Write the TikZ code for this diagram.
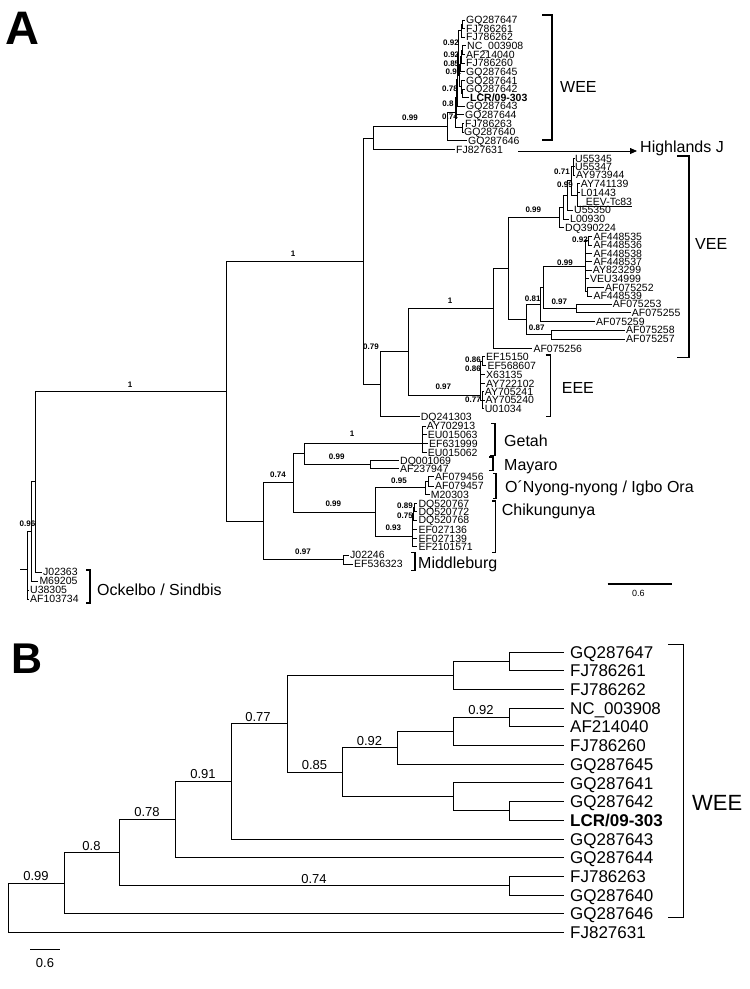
\documentclass[tikz,border=0pt]{standalone}
\usepackage{fontspec}
\setmainfont{Liberation Sans}
\usetikzlibrary{arrows.meta}
\begin{document}
\begin{tikzpicture}[x=1pt,y=-1pt,
  tipA/.style={anchor=west,inner xsep=1pt,inner ysep=0pt,text height=7.5pt,text depth=0pt,font=\fontsize{10.5}{12}\selectfont},
  tipAb/.style={tipA,font=\bfseries\fontsize{10.5}{12}\selectfont},
  supA/.style={inner sep=0pt,text height=5.7pt,text depth=0pt,font=\bfseries\fontsize{8}{9}\selectfont},
  cladeA/.style={anchor=west,inner sep=0pt,text height=11.5pt,text depth=0pt,font=\fontsize{16}{18}\selectfont},
  edgeA/.style={line width=0.8pt},
  tipB/.style={anchor=west,inner xsep=6.5pt,inner ysep=0pt,text height=12.2pt,text depth=0pt,font=\fontsize{17}{19}\selectfont},
  tipBb/.style={tipB,font=\bfseries\fontsize{17}{19}\selectfont},
  supB/.style={anchor=south,inner sep=0pt,text height=9.3pt,text depth=0pt,font=\fontsize{13}{15}\selectfont},
  edgeB/.style={line width=1pt},
  brk/.style={line width=1.4pt},
  panel/.style={anchor=west,inner sep=0pt,text depth=0pt}]
\fill[white] (0,0) rectangle (750,989);
\useasboundingbox (0,0) rectangle (750,989);

% ---------------- panel letters
\node[panel,text height=34pt,font=\bfseries\fontsize{47}{50}\selectfont] (panelA) at (5,27) {A};
\node[panel,text height=31pt,font=\bfseries\fontsize{43}{46}\selectfont] (panelB) at (11,658) {B};

% ================= PANEL A =================
% --- WEE tips
\node[tipA] (w0) at (465,20) {GQ287647};
\node[tipA] (w1) at (465,28.62) {FJ786261};
\node[tipA] (w2) at (465,37.24) {FJ786262};
\node[tipA] (w3) at (466,45.86) {NC\_003908};
\node[tipA] (w4) at (465,54.48) {AF214040};
\node[tipA] (w5) at (465,63.1) {FJ786260};
\node[tipA] (w6) at (465,71.72) {GQ287645};
\node[tipA] (w7) at (465,80.34) {GQ287641};
\node[tipA] (w8) at (465,88.96) {GQ287642};
\node[tipAb] (w9) at (469,97.58) {LCR/09-303};
\node[tipA] (w10) at (465,106.2) {GQ287643};
\node[tipA] (w11) at (464,114.82) {GQ287644};
\node[tipA] (w12) at (464,123.44) {FJ786263};
\node[tipA] (w13) at (463,132.06) {GQ287640};
\node[tipA] (w14) at (467,140.68) {GQ287646};
\node[tipA] (w15) at (455,149.3) {FJ827631};
% WEE support
\node[supA] (sw1) at (451,43) {0.92};
\node[supA] (sw2) at (451.4,55) {0.92};
\node[supA] (sw3) at (451.4,64) {0.85};
\node[supA] (sw4) at (453.4,72) {0.91};
\node[supA] (sw5) at (450,89) {0.78};
\node[supA] (sw6) at (448,104) {0.8};
\node[supA] (sw7) at (450,117) {0.74};
\node[supA] (sw8) at (410,118) {0.99};
% WEE internal nodes
\coordinate (a_p01) at (462.5,24.31);
\coordinate (a_n7) at (461,30.78);
\coordinate (a_pNA) at (462.5,50.17);
\coordinate (a_n11) at (461,56.64);
\coordinate (a_n9) at (460.2,64.18);
\coordinate (a_pGL) at (462.5,93.27);
\coordinate (a_n10) at (461,86.81);
\coordinate (a_n8) at (459.5,75.49);
\coordinate (a_n6) at (458.5,53.13);
\coordinate (a_n5) at (457.5,79.67);
\coordinate (a_n4) at (456.5,97.24);
\coordinate (a_p1213) at (462.5,127.75);
\coordinate (a_n3) at (455,112.5);
\coordinate (a_n2) at (447,126.59);
\coordinate (a_wr) at (373,137.95);

% --- Highlands J
\node[cladeA] (hj) at (640,146.5) {Highlands J};
\coordinate (hjtip) at (637,151);
\draw[edgeA,-{Triangle[length=7pt,width=6pt]}] ([xshift=14pt,yshift=-1.7pt]w15.east) -- (hjtip);

% --- VEE tips
\node[tipA] (v1) at (574,158.3) {U55345};
\node[tipA] (v2) at (574,166.7) {U55347};
\node[tipA] (v3) at (575,175) {AY973944};
\node[tipA] (v4) at (579.7,183.3) {AY741139};
\node[tipA] (v5) at (579.7,192.7) {L01443};
\node[tipA] (v6) at (584.7,201.7) {EEV-Tc83};
\node[tipA] (v7) at (573,210) {U55350};
\node[tipA] (v8) at (569,219) {L00930};
\node[tipA] (v9) at (564,227.3) {DQ390224};
\node[tipA] (v10) at (592.3,236.7) {AF448535};
\node[tipA] (v11) at (592.3,245) {AF448536};
\node[tipA] (v12) at (592.3,253.3) {AF448538};
\node[tipA] (v13) at (592.3,261.7) {AF448537};
\node[tipA] (v14) at (591.7,270) {AY823299};
\node[tipA] (v15) at (589,278.3) {VEU34999};
\node[tipA] (v16) at (604,287.3) {AF075252};
\node[tipA] (v17) at (592.3,296) {AF448539};
\node[tipA] (v18) at (611.7,304) {AF075253};
\node[tipA] (v19) at (630.7,312.7) {AF075255};
\node[tipA] (v20) at (595,321.7) {AF075259};
\node[tipA] (v21) at (625,330) {AF075258};
\node[tipA] (v22) at (625,339) {AF075257};
\node[tipA] (v23) at (532.3,348.3) {AF075256};
\coordinate (eevend) at (632,206.7);
% VEE support
\node[supA] (sv1) at (562,171.7) {0.71};
\node[supA] (sv2) at (565,184.3) {0.99};
\node[supA] (sv3) at (533.3,210) {0.99};
\node[supA] (sv4) at (580,240) {0.92};
\node[supA] (sv5) at (565,262.3) {0.99};
\node[supA] (sv6) at (532.7,298.3) {0.81};
\node[supA] (sv7) at (559.3,301.7) {0.97};
\node[supA] (sv8) at (536.7,327.3) {0.87};
\node[supA] (sv9) at (450,300.7) {1};
% VEE internal
\coordinate (Va) at (573.5,166.7);
\coordinate (Vb) at (577.3,195);
\coordinate (V4) at (571,180.85);
\coordinate (V3) at (567.5,195.4);
\coordinate (V2) at (563.5,207.2);
\coordinate (V1) at (559.3,217.25);
\coordinate (L8) at (588,240.85);
\coordinate (L7) at (587,291.65);
\coordinate (L5) at (585,266.25);
\coordinate (L6) at (576,308.35);
\coordinate (L4) at (543,287.3);
\coordinate (L2) at (540.5,304.5);
\coordinate (L3) at (551.7,334.5);
\coordinate (L1) at (526.7,319.5);
\coordinate (L0) at (508.3,268.4);
\coordinate (VEEn) at (493.3,308.35);

% --- EEE
\node[tipA] (e1) at (485,356.7) {EF15150};
\node[tipA] (e2) at (486.3,365.7) {EF568607};
\node[tipA] (e3) at (485,374.3) {X63135};
\node[tipA] (e4) at (485,383.3) {AY722102};
\node[tipA] (e5) at (483.7,391.7) {AY705241};
\node[tipA] (e6) at (484.5,400) {AY705240};
\node[tipA] (e7) at (483.7,408.7) {U01034};
\node[tipA] (dq) at (419.7,416.7) {DQ241303};
\node[supA] (se1) at (473,359.3) {0.86};
\node[supA] (se2) at (473,368.7) {0.86};
\node[supA] (se3) at (473,400) {0.77};
\node[supA] (se4) at (443.3,386.7) {0.97};
\node[supA] (se5) at (371,347) {0.79};
\coordinate (E1) at (482.5,361.2);
\coordinate (E2) at (482,400.2);
\coordinate (E0) at (480,395.3);
\coordinate (VE) at (408.3,351.8);
\coordinate (Q) at (380,384.25);
\coordinate (W) at (363,261.1);
\coordinate (X) at (226,391.4);

% --- lower clades
\node[tipA] (g1) at (425.7,426) {AY702913};
\node[tipA] (g2) at (426.7,434.3) {EU015063};
\node[tipA] (g3) at (428,443.3) {EF631999};
\node[tipA] (g4) at (426.7,452.3) {EU015062};
\node[tipA] (m1) at (399,460.7) {DQ001069};
\node[tipA] (m2) at (399,468.3) {AF237947};
\node[tipA] (o1) at (434,476.7) {AF079456};
\node[tipA] (o2) at (434,486) {AF079457};
\node[tipA] (o3) at (429.7,494.3) {M20303};
\node[tipA] (c1) at (417.3,503.3) {DQ520767};
\node[tipA] (c2) at (417.3,511.7) {DQ520772};
\node[tipA] (c3) at (417.3,520) {DQ520768};
\node[tipA] (c4) at (417.3,529.3) {EF027136};
\node[tipA] (c5) at (417.3,538.3) {EF027139};
\node[tipA] (c6) at (417.3,546.7) {EF2101571};
\node[tipA] (mb1) at (349,555) {J02246};
\node[tipA] (mb2) at (353,564) {EF536323};
\node[tipA] (k1) at (42,572) {J02363};
\node[tipA] (k2) at (38.3,581) {M69205};
\node[tipA] (k3) at (29,590) {U38305};
\node[tipA] (k4) at (29,599) {AF103734};
\node[supA] (sl1) at (352,434) {1};
\node[supA] (sl2) at (336.7,456.7) {0.99};
\node[supA] (sl3) at (278,475) {0.74};
\node[supA] (sl4) at (399,480.7) {0.95};
\node[supA] (sl5) at (333.3,503.3) {0.99};
\node[supA] (sl6) at (405,505.7) {0.89};
\node[supA] (sl7) at (405,516) {0.75};
\node[supA] (sl8) at (393.3,527.3) {0.93};
\node[supA] (sl9) at (303,551.7) {0.97};
\node[supA] (sl10) at (27.5,524) {0.96};
\node[supA] (sl11) at (130,385) {1};
\node[supA] (sl12) at (293,254) {1};
\coordinate (Y) at (263.3,521.3);
\coordinate (Z) at (293.3,482.6);
\coordinate (GM) at (304,453.75);
\coordinate (G) at (422.7,443);
\coordinate (M) at (370.7,464.5);
\coordinate (OC) at (375,512);
\coordinate (ONN) at (425,487.8);
\coordinate (P) at (428,481.3);
\coordinate (C0) at (412.3,536);
\coordinate (C2) at (413.5,513.75);
\coordinate (C1) at (414.5,507.5);
\coordinate (Mb) at (343.5,559.5);
\coordinate (AR) at (35,481.7);
\coordinate (O1) at (31,531.35);
\coordinate (O2) at (27,569);
\coordinate (Ost) at (20,569);

% --- edges panel A
\draw[edgeA]
  (a_p01) |- (w0.west) (a_p01) |- (w1.west)
  (a_n7) |- (a_p01) (a_n7) |- (w2.west)
  (a_pNA) |- (w3.west) (a_pNA) |- (w4.west)
  (a_n11) |- (a_pNA) (a_n11) |- (w5.west)
  (a_n9) |- (a_n11) (a_n9) |- (w6.west)
  (a_pGL) |- (w8.west) (a_pGL) |- (w9.west)
  (a_n10) |- (w7.west) (a_n10) |- (a_pGL)
  (a_n8) |- (a_n9) (a_n8) |- (a_n10)
  (a_n6) |- (a_n7) (a_n6) |- (a_n8)
  (a_n5) |- (a_n6) (a_n5) |- (w10.west)
  (a_n4) |- (a_n5) (a_n4) |- (w11.west)
  (a_p1213) |- (w12.west) (a_p1213) |- (w13.west)
  (a_n3) |- (a_n4) (a_n3) |- (a_p1213)
  (a_n2) |- (a_n3) (a_n2) |- (w14.west)
  (a_wr) |- (a_n2) (a_wr) |- (w15.west)
  (W) |- (a_wr) (W) |- (Q)
  (X) |- (W) (X) |- (Y)
  (Q) |- (VE) (Q) |- (dq.west)
  (VE) |- (VEEn) (VE) |- (E0)
  (VEEn) |- (L0) (VEEn) |- (v23.west)
  (L0) |- (V1) (L0) |- (L1)
  (V1) |- (V2) (V1) |- (v9.west)
  (V2) |- (V3) (V2) |- (v8.west)
  (V3) |- (V4) (V3) |- (v7.west)
  (V4) |- (Va) (V4) |- (Vb)
  (Va) |- (v1.west) (Va) |- (v2.west) (Va) |- (v3.west)
  (Vb) |- (v4.west) (Vb) |- (v5.west) (Vb) |- (eevend)
  (L1) |- (L2) (L1) |- (L3)
  (L2) |- (L4) (L2) |- (v20.west)
  (L4) |- (L5) (L4) |- (L6)
  (L5) |- (L8) (L5) |- (v12.west) (L5) |- (v13.west) (L5) |- (v14.west) (L5) |- (v15.west) (L5) |- (L7)
  (L8) |- (v10.west) (L8) |- (v11.west)
  (L7) |- (v16.west) (L7) |- (v17.west)
  (L6) |- (v18.west) (L6) |- (v19.west)
  (L3) |- (v21.west) (L3) |- (v22.west)
  (E0) |- (E1) (E0) |- (e3.west) (E0) |- (e4.west) (E0) |- (E2)
  (E1) |- (e1.west) (E1) |- (e2.west)
  (E2) |- (e5.west) (E2) |- (e6.west) (E2) |- (e7.west)
  (Y) |- (Z) (Y) |- (Mb)
  (Z) |- (GM) (Z) |- (OC)
  (GM) |- (G) (GM) |- (M)
  (G) |- (g1.west) (G) |- (g2.west) (G) |- (g3.west) (G) |- (g4.west)
  (M) |- (m1.west) (M) |- (m2.west)
  (OC) |- (ONN) (OC) |- (C0)
  (ONN) |- (P) (ONN) |- (o3.west)
  (P) |- (o1.west) (P) |- (o2.west)
  (C0) |- (C2) (C0) |- (c4.west) (C0) |- (c5.west) (C0) |- (c6.west)
  (C2) |- (C1) (C2) |- (c3.west)
  (C1) |- (c1.west) (C1) |- (c2.west)
  (Mb) |- (mb1.west) (Mb) |- (mb2.west)
  (AR) |- (X) (AR) |- (k1.west)
  (O1) |- (AR) (O1) |- (k2.west)
  (O2) |- (O1) (O2) |- (k3.west) (O2) |- (k4.west)
  (Ost) -- (O2);

% --- clade brackets and names (A)
\draw[brk] (542,15) -- (552,15) -- (552,140) -- (542,140);
\node[cladeA] (tWEE) at (560,87) {WEE};
\draw[brk] (677,156) -- (689,156) -- (689,357.3) -- (677,357.3);
\node[cladeA] (tVEE) at (695,244) {VEE};
\draw[brk] (545.7,355) -- (550.7,355) -- (550.7,416.7) -- (545.7,416.7);
\node[cladeA] (tEEE) at (561.7,387.7) {EEE};
\draw[brk] (491,423.3) -- (495,423.3) -- (495,455.5) -- (490,455.5);
\node[cladeA] (tGetah) at (504,440.7) {Getah};
\draw[brk] (489,457) -- (493,457) -- (493,470.7) -- (489,470.7);
\node[cladeA] (tMay) at (504,465) {Mayaro};
\draw[brk] (493,473.3) -- (496,473.3) -- (496,498.3) -- (493,498.3);
\node[cladeA] (tONN) at (505,486.7) {O´Nyong-nyong / Igbo Ora};
\draw[brk] (492,501) -- (495.7,501) -- (495.7,552.7) -- (492,552.7);
\node[cladeA] (tChik) at (501.7,510) {Chikungunya};
\draw[brk] (411,552.7) -- (415,552.7) -- (415,570.7) -- (411,570.7);
\node[cladeA] (tMid) at (418,562.7) {Middleburg};
\draw[brk] (86,570) -- (90,570) -- (90,603) -- (86,603);
\node[cladeA] (tOck) at (97,590) {Ockelbo / Sindbis};

% scale bar A
\coordinate (sbA1) at (607.7,584);
\coordinate (sbA2) at (671.7,584);
\draw[line width=1.1pt] (sbA1) -- (sbA2);
\node[inner sep=0pt,text height=6.5pt,text depth=0pt,font=\fontsize{9}{10}\selectfont] (sbAt) at (638.3,593.3) {0.6};

% ================= PANEL B =================
\node[tipB] (b0) at (563.5,652) {GQ287647};
\node[tipB] (b1) at (563.5,670.7) {FJ786261};
\node[tipB] (b2) at (563.5,689.4) {FJ786262};
\node[tipB] (b3) at (563.5,708.1) {NC\_003908};
\node[tipB] (b4) at (563.5,726.8) {AF214040};
\node[tipB] (b5) at (563.5,745.5) {FJ786260};
\node[tipB] (b6) at (563.5,764.2) {GQ287645};
\node[tipB] (b7) at (563.5,782.9) {GQ287641};
\node[tipB] (b8) at (563.5,801.6) {GQ287642};
\node[tipBb] (b9) at (563.5,820.3) {LCR/09-303};
\node[tipB] (b10) at (563.5,839) {GQ287643};
\node[tipB] (b11) at (563.5,857.7) {GQ287644};
\node[tipB] (b12) at (563.5,876.4) {FJ786263};
\node[tipB] (b13) at (563.5,895.1) {GQ287640};
\node[tipB] (b14) at (563.5,913.8) {GQ287646};
\node[tipB] (b15) at (563.5,932.5) {FJ827631};

\coordinate (b_p01) at (509,661.35);
\coordinate (b_n7) at (453,675.4);
\coordinate (b_pNA) at (509,717.45);
\coordinate (b_n11) at (453,731.5);
\coordinate (b_n9) at (397,747.8);
\coordinate (b_pGL) at (509,810.95);
\coordinate (b_n10) at (453,796.9);
\coordinate (b_n8) at (342,772.4);
\coordinate (b_n6) at (287,723.9);
\coordinate (b_n5) at (231,781.4);
\coordinate (b_n4) at (175.5,819.6);
\coordinate (b_p1213) at (509,885.75);
\coordinate (b_n3) at (119,852.7);
\coordinate (b_n2) at (64,883.2);
\coordinate (b_root) at (8,907.9);

\draw[edgeB]
  (b_p01) |- (b0.west) (b_p01) |- (b1.west)
  (b_n7) |- (b_p01) (b_n7) |- (b2.west)
  (b_pNA) |- (b3.west) (b_pNA) |- (b4.west)
  (b_n11) |- (b_pNA) (b_n11) |- (b5.west)
  (b_n9) |- (b_n11) (b_n9) |- (b6.west)
  (b_pGL) |- (b8.west) (b_pGL) |- (b9.west)
  (b_n10) |- (b7.west) (b_n10) |- (b_pGL)
  (b_n8) |- (b_n9) (b_n8) |- (b_n10)
  (b_n6) |- (b_n7) (b_n6) |- (b_n8)
  (b_n5) |- (b_n6) (b_n5) |- (b10.west)
  (b_n4) |- (b_n5) (b_n4) |- (b11.west)
  (b_p1213) |- (b12.west) (b_p1213) |- (b13.west)
  (b_n3) |- (b_n4) (b_n3) |- (b_p1213)
  (b_n2) |- (b_n3) (b_n2) |- (b14.west)
  (b_root) |- (b_n2) (b_root) |- (b15.west);

\node[supB] (sb1) at (36,880.7) {0.99};
\node[supB] (sb2) at (91.5,850.2) {0.8};
\node[supB] (sb3) at (147,817.1) {0.78};
\node[supB] (sb4) at (203,778.9) {0.91};
\node[supB] (sb5) at (258,721.4) {0.77};
\node[supB] (sb6) at (314.5,769.9) {0.85};
\node[supB] (sb7) at (369.5,745.3) {0.92};
\node[supB] (sb8) at (481,714.95) {0.92};
\node[supB] (sb9) at (314,883.25) {0.74};

\draw[edgeB] (668,644) -- (683,644) -- (683,917) -- (668,917);
\node[anchor=west,inner sep=0pt,text height=15.8pt,text depth=0pt,font=\fontsize{22}{24}\selectfont] (tWEEB) at (692,802.7) {WEE};

\coordinate (sbB1) at (30,949);
\coordinate (sbB2) at (60,949);
\draw[edgeB] (sbB1) -- (sbB2);
\node[inner sep=0pt,text height=9.3pt,text depth=0pt,font=\fontsize{13}{15}\selectfont] (sbBt) at (45,963) {0.6};
\end{tikzpicture}
\end{document}
